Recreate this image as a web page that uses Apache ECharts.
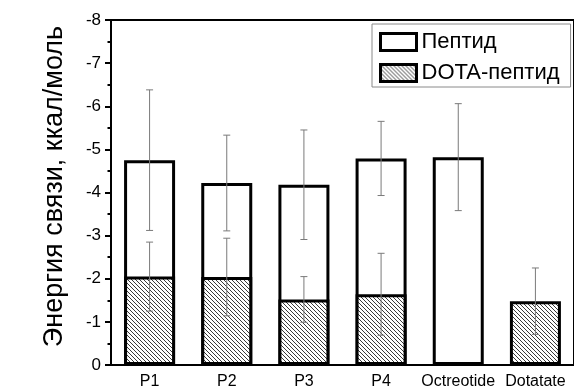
<!DOCTYPE html>
<html>
<head>
<meta charset="utf-8">
<script src="https://cdn.jsdelivr.net/npm/echarts@6/dist/echarts.min.js"></script>
<style>
  html, body { margin: 0; padding: 0; background: #ffffff; }
  #chart { width: 574px; height: 392px; }
</style>
</head>
<body>
<div id="chart"></div>
<script>
// Binding energies (kcal/mol) per compound; '-' marks a missing bar
const categories = ['P1', 'P2', 'P3', 'P4', 'Octreotide', 'Dotatate'];
const peptideValues = [-4.75, -4.22, -4.18, -4.79, -4.82, '-'];
const peptideErrors = [1.63, 1.11, 1.27, 0.86, 1.24, '-'];
const dotaValues = [-2.05, -2.04, -1.52, -1.64, '-', -1.48];
const dotaErrors = [0.80, 0.90, 0.53, 0.95, '-', 0.77];
const yTicks = { min: -8, max: 0, step: 1 };

// Diagonal hatch fill for the DOTA bars
function makeHatch() {
  const s = 4;
  const c = document.createElement('canvas');
  c.width = s; c.height = s;
  const g = c.getContext('2d');
  g.fillStyle = '#ffffff';
  g.fillRect(0, 0, s, s);
  g.strokeStyle = '#3a3a3a';
  g.lineWidth = 1;
  g.beginPath();
  g.moveTo(0, 0); g.lineTo(s, s);
  g.moveTo(-s, 0); g.lineTo(s, 2 * s);
  g.moveTo(0, -s); g.lineTo(2 * s, s);
  g.stroke();
  return c;
}
const hatch = { image: makeHatch(), repeat: 'repeat' };

function errorData(values, errors) {
  const out = [];
  values.forEach((v, i) => {
    if (typeof v === 'number' && typeof errors[i] === 'number') {
      out.push([i, v - errors[i], v + errors[i]]);
    }
  });
  return out;
}

function renderError(params, api) {
  const x = api.value(0);
  const lo = api.coord([x, api.value(1)]);
  const hi = api.coord([x, api.value(2)]);
  const cap = 3.5;
  const style = { stroke: '#7a7a7a', lineWidth: 1 };
  return {
    type: 'group',
    children: [
      { type: 'line', shape: { x1: lo[0], y1: lo[1], x2: hi[0], y2: hi[1] }, style },
      { type: 'line', shape: { x1: lo[0] - cap, y1: lo[1], x2: lo[0] + cap, y2: lo[1] }, style },
      { type: 'line', shape: { x1: hi[0] - cap, y1: hi[1], x2: hi[0] + cap, y2: hi[1] }, style }
    ]
  };
}

const font = 'Liberation Sans, Arial, sans-serif';
const chart = echarts.init(document.getElementById('chart'), null, { renderer: 'canvas' });

chart.setOption({
  backgroundColor: '#ffffff',
  animation: false,
  textStyle: { fontFamily: font },
  grid: {
    left: 111, top: 20, bottom: 27, right: -4,
    show: true, borderColor: '#000', borderWidth: 2, backgroundColor: 'transparent'
  },
  legend: {
    left: 372, top: 24,
    orient: 'vertical',
    itemWidth: 36, itemHeight: 17,
    itemGap: 9,
    padding: [7, 11, 3, 7],
    borderColor: '#8a8a8a', borderWidth: 1,
    backgroundColor: '#ffffff',
    textStyle: { fontFamily: font, fontSize: 22, color: '#000', lineHeight: 19 },
    data: [
      { name: 'Пептид', icon: 'rect', itemStyle: { color: '#fff', borderColor: '#000', borderWidth: 3 } },
      { name: 'DOTA-пептид', icon: 'rect', itemStyle: { color: hatch, borderColor: '#000', borderWidth: 3 } }
    ]
  },
  xAxis: {
    type: 'category',
    data: categories,
    axisLine: { lineStyle: { color: '#000', width: 2 } },
    axisTick: { show: false },
    axisLabel: { color: '#000', fontSize: 16, margin: 9, interval: 0, fontFamily: font }
  },
  yAxis: {
    type: 'value',
    min: yTicks.min, max: yTicks.max, interval: yTicks.step,
    inverse: true,
    name: 'Энергия связи, ккал/моль',
    nameLocation: 'middle',
    nameRotate: 90,
    nameGap: 43,
    nameTextStyle: { fontSize: 27, color: '#000', fontFamily: font, padding: [0, 0, 0, 12] },
    axisLine: { show: true, lineStyle: { color: '#000', width: 2 } },
    axisTick: { show: true, inside: false, length: 6, lineStyle: { color: '#000', width: 2 } },
    minorTick: { show: true, splitNumber: 2, length: 3.5, lineStyle: { color: '#000', width: 2 } },
    splitLine: { show: false },
    axisLabel: { color: '#000', fontSize: 17, margin: 10, fontFamily: font }
  },
  series: [
    {
      name: 'Пептид', type: 'bar', data: peptideValues,
      barWidth: 51, barGap: '-100%',
      itemStyle: { color: '#fff', borderColor: '#000', borderWidth: 3 },
      z: 2
    },
    {
      name: 'DOTA-пептид', type: 'bar', data: dotaValues,
      barWidth: 51, barGap: '-100%',
      itemStyle: { color: hatch, borderColor: '#000', borderWidth: 3 },
      z: 3
    },
    {
      type: 'custom', name: 'peptide-err', data: errorData(peptideValues, peptideErrors),
      renderItem: renderError, encode: { x: 0, y: [1, 2] }, z: 5, silent: true
    },
    {
      type: 'custom', name: 'dota-err', data: errorData(dotaValues, dotaErrors),
      renderItem: renderError, encode: { x: 0, y: [1, 2] }, z: 5, silent: true
    }
  ]
});
</script>
</body>
</html>
